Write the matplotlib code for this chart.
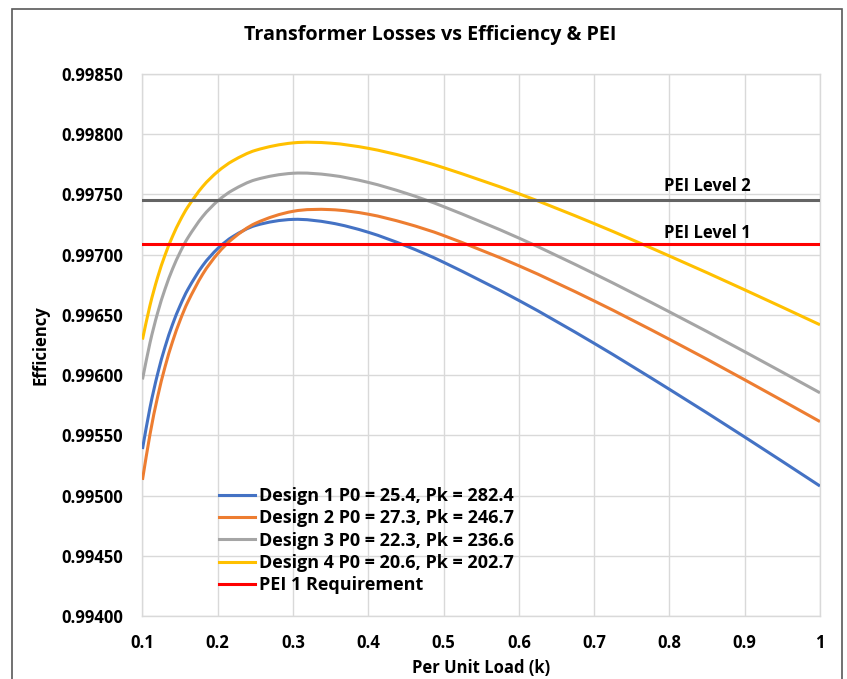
import matplotlib
matplotlib.use("Agg")
import matplotlib.pyplot as plt
from matplotlib.patches import Rectangle, PathPatch
from matplotlib.path import Path
from matplotlib.lines import Line2D

plt.rcParams['font.family'] = ['Open Sans', 'DejaVu Sans']
plt.rcParams['font.weight'] = 'bold'

# per unit load
load = [0.10, 0.11, 0.12, 0.13, 0.14, 0.15, 0.16, 0.18, 0.20, 0.22, 0.25,
        0.30, 0.35, 0.40, 0.45, 0.50, 0.60, 0.70, 0.80, 0.90, 1.00]

design1 = [0.995386, 0.995730, 0.996007, 0.996234, 0.996422, 0.996577, 0.996708,
           0.996909, 0.997051, 0.997150, 0.997242, 0.997293, 0.997264, 0.997186,
           0.997073, 0.996937, 0.996620, 0.996264, 0.995882, 0.995486, 0.995079]
design2 = [0.995130, 0.995508, 0.995816, 0.996069, 0.996279, 0.996455, 0.996604,
           0.996838, 0.997009, 0.997134, 0.997260, 0.997360, 0.997374, 0.997336,
           0.997260, 0.997159, 0.996908, 0.996616, 0.996297, 0.995961, 0.995614]
design3 = [0.995964, 0.996268, 0.996514, 0.996715, 0.996882, 0.997020, 0.997137,
           0.997317, 0.997446, 0.997536, 0.997622, 0.997676, 0.997660, 0.997600,
           0.997510, 0.997399, 0.997138, 0.996842, 0.996525, 0.996194, 0.995853]
design4 = [0.996295, 0.996579, 0.996809, 0.996997, 0.997153, 0.997284, 0.997394,
           0.997566, 0.997690, 0.997779, 0.997866, 0.997928, 0.997926, 0.997883,
           0.997812, 0.997722, 0.997506, 0.997258, 0.996989, 0.996708, 0.996418]

pei_level1 = 0.99709
pei_level2 = 0.99745

labels = ["Design 1 P0 = 25.4, Pk = 282.4",
          "Design 2 P0 = 27.3, Pk = 246.7",
          "Design 3 P0 = 22.3, Pk = 236.6",
          "Design 4 P0 = 20.6, Pk = 202.7"]
colors = ["#4472C4", "#ED7D31", "#A5A5A5", "#FFC000"]

yticks = [0.99400, 0.99450, 0.99500, 0.99550, 0.99600, 0.99650,
          0.99700, 0.99750, 0.99800, 0.99850]
xticks = [0.1, 0.2, 0.3, 0.4, 0.5, 0.6, 0.7, 0.8, 0.9, 1.0]
xticklabels = ["0.1", "0.2", "0.3", "0.4", "0.5", "0.6", "0.7", "0.8", "0.9", "1"]


def smooth_path(xs, ys):
    # excel style smoothed line: cubic bezier through every point
    n = len(xs)
    slopes = []
    for i in range(n):
        a = max(i - 1, 0)
        b = min(i + 1, n - 1)
        slopes.append((ys[b] - ys[a]) / (xs[b] - xs[a]))
    verts = [(xs[0], ys[0])]
    codes = [Path.MOVETO]
    for i in range(n - 1):
        h = (xs[i + 1] - xs[i]) / 3.0
        verts.append((xs[i] + h, ys[i] + h * slopes[i]))
        verts.append((xs[i + 1] - h, ys[i + 1] - h * slopes[i + 1]))
        verts.append((xs[i + 1], ys[i + 1]))
        codes += [Path.CURVE4] * 3
    return Path(verts, codes)


fig = plt.figure(figsize=(8.47, 6.79), dpi=100)
ax = fig.add_axes([0.1682, 0.0928, 0.7999, 0.7982])

handles = []
for ys, lab, c in zip([design1, design2, design3, design4], labels, colors):
    ax.add_patch(PathPatch(smooth_path(load, ys), fill=False, edgecolor=c,
                           lw=2.2, capstyle='butt', zorder=3))
    handles.append(Line2D([], [], color=c, lw=2.2, label=lab))
ax.plot([0.1, 1.0], [pei_level2, pei_level2], color="#646464", lw=2.2, zorder=3)
red, = ax.plot([0.1, 1.0], [pei_level1, pei_level1], color="#FF0000", lw=2.2,
               label="PEI 1 Requirement", zorder=3)
handles.append(red)

ax.set_xlim(0.1, 1.0)
ax.set_ylim(0.994, 0.9985)
ax.set_xticks(xticks)
ax.set_xticklabels(xticklabels)
ax.set_yticks(yticks)
ax.set_yticklabels(["%.5f" % v for v in yticks])
ax.tick_params(length=0, labelsize=12, colors="#000000")
ax.tick_params(axis='x', pad=13)
ax.tick_params(axis='y', pad=14)
ax.grid(True, color="#D9D9D9", lw=1)
ax.set_axisbelow(True)
for s in ax.spines.values():
    s.set_color("#D9D9D9")
    s.set_linewidth(1)

ax.text(0.85, 0.99757, "PEI Level 2", ha='center', va='center', fontsize=12,
        fontweight='bold')
ax.text(0.85, 0.99718, "PEI Level 1", ha='center', va='center', fontsize=12,
        fontweight='bold')

ax.legend(handles=handles, loc='upper left',
          bbox_to_anchor=(219 / 847, 1 - 487 / 679),
          bbox_transform=fig.transFigure, frameon=False, fontsize=13,
          borderpad=0, borderaxespad=0, handlelength=2.0, handletextpad=0.22,
          labelspacing=0.24)

fig.text(430 / 847, 1 - 35 / 679, "Transformer Losses vs Efficiency & PEI",
         ha='center', va='center', fontsize=14.2, fontweight='bold')
fig.text(40 / 847, 1 - 345 / 679, "Efficiency", rotation=90, ha='center',
         va='center', fontsize=12, fontweight='bold')
fig.text(481 / 847, 1 - 668 / 679, "Per Unit Load (k)", ha='center', va='center',
         fontsize=12, fontweight='bold')

fig.patches.append(Rectangle((12 / 847, -0.05), 830 / 847, 1.05 - 9 / 679,
                             transform=fig.transFigure, fill=False,
                             edgecolor="#595959", lw=1.2))

fig.savefig("out.png", dpi=100)
